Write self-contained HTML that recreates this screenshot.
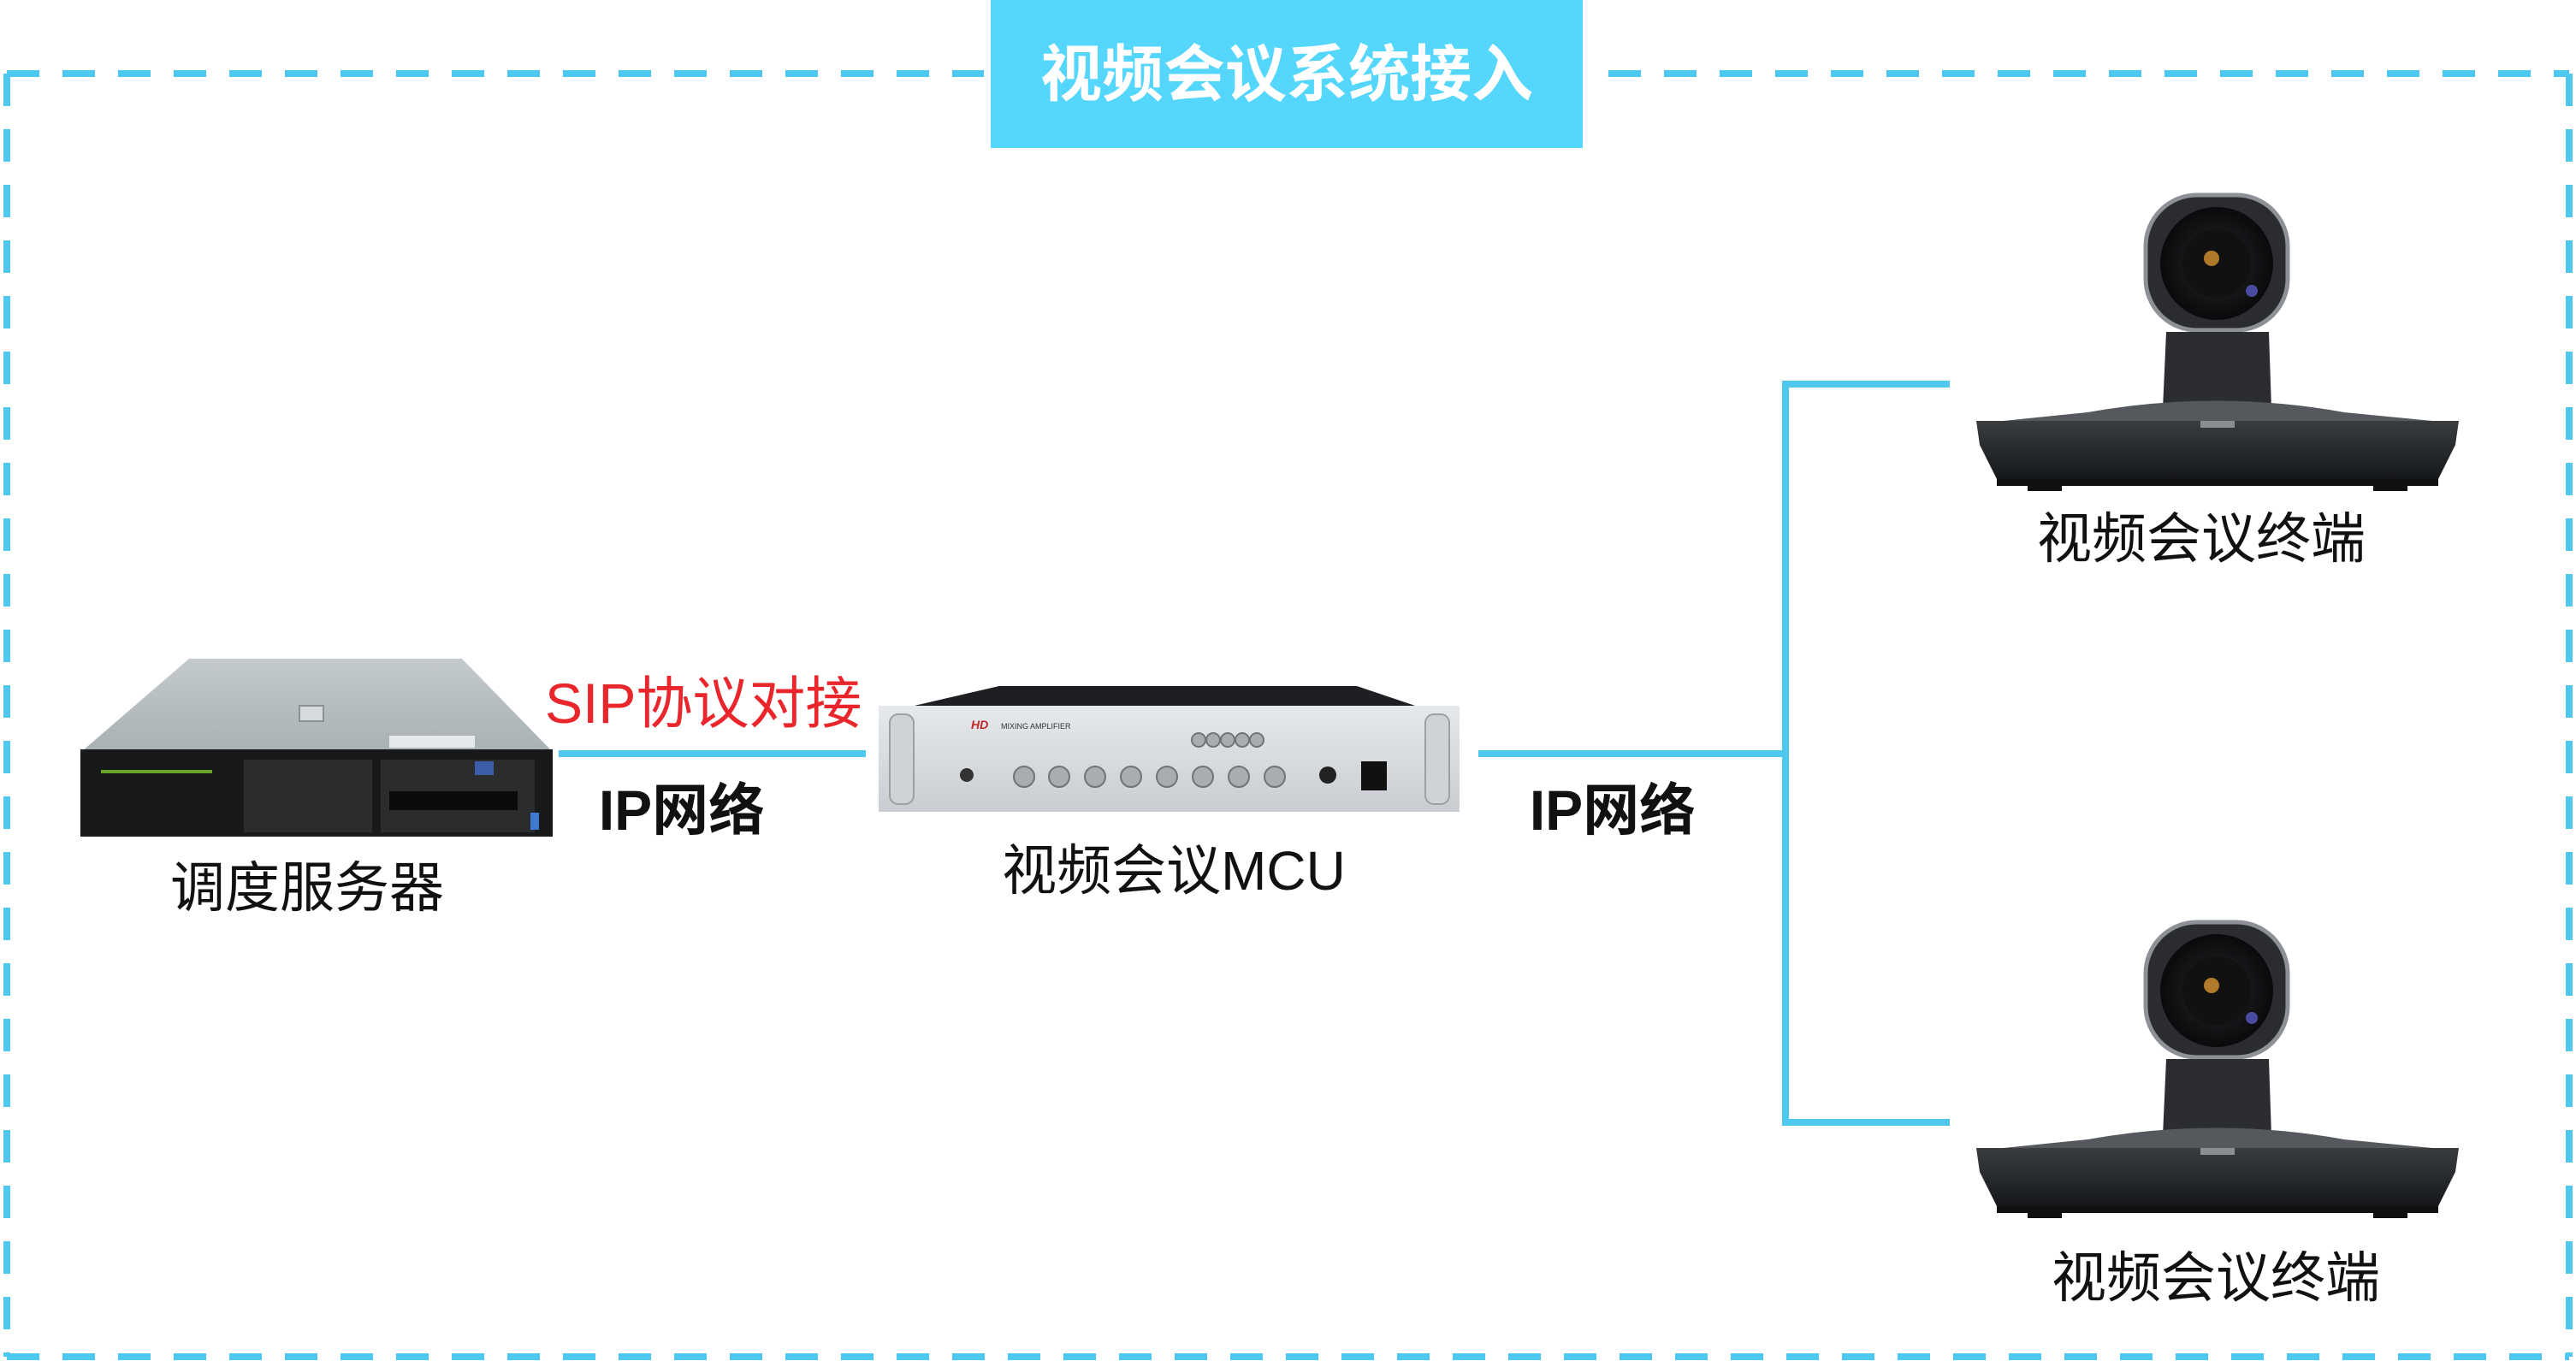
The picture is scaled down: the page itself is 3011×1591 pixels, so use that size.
<!DOCTYPE html>
<html><head><meta charset="utf-8"><style>
html,body{margin:0;padding:0;background:#fff;}
svg{display:block;}
text{font-family:"Liberation Sans","Noto Sans CJK SC",sans-serif;}
</style></head><body>
<svg width="3011" height="1591" viewBox="0 0 3011 1591" xmlns="http://www.w3.org/2000/svg">
<defs>
<linearGradient id="silver" x1="0" y1="0" x2="0" y2="1"><stop offset="0" stop-color="#e6e9ec"/><stop offset="1" stop-color="#c9cdd1"/></linearGradient>
<linearGradient id="top" x1="0" y1="0" x2="0" y2="1"><stop offset="0" stop-color="#c4cacd"/><stop offset="1" stop-color="#a9b1b5"/></linearGradient>
<linearGradient id="base" x1="0" y1="0" x2="0" y2="1"><stop offset="0" stop-color="#3a3d40"/><stop offset="1" stop-color="#15171a"/></linearGradient>
<radialGradient id="lens"><stop offset="0" stop-color="#6b4a1a"/><stop offset="0.35" stop-color="#1e1e22"/><stop offset="1" stop-color="#0a0a0c"/></radialGradient>
<g id="cam">
  <rect x="2508" y="228" width="166" height="158" rx="60" fill="#2a2c30" stroke="#8d9096" stroke-width="5"/>
  <circle cx="2591" cy="308" r="66" fill="url(#lens)"/>
  <circle cx="2591" cy="308" r="40" fill="#111"/>
  <circle cx="2585" cy="302" r="9" fill="#b07a2a"/>
  <circle cx="2632" cy="340" r="7" fill="#4a4aa0"/>
  <path d="M2532 388 L2652 388 L2655 478 L2528 478 Z" fill="#2b2d31"/>
  <path d="M2440 482 Q2590 455 2740 482 L2874 495 L2312 495 Z" fill="#55585d"/>
  <path d="M2310 492 L2874 492 L2870 520 L2850 560 L2334 560 L2314 520 Z" fill="url(#base)"/>
  <rect x="2334" y="560" width="516" height="8" fill="#111"/>
  <rect x="2370" y="566" width="40" height="8" fill="#111"/>
  <rect x="2774" y="566" width="40" height="8" fill="#111"/>
  <rect x="2572" y="492" width="40" height="8" fill="#8a8d92"/>
</g>
</defs>
<!-- dashed frame -->
<g stroke="#4fc8ef" stroke-width="8" fill="none" stroke-dasharray="38 27">
  <line x1="8" y1="86" x2="1150" y2="86"/>
  <line x1="1880" y1="86" x2="3003" y2="86"/>
  <line x1="8" y1="86" x2="8" y2="1586"/>
  <line x1="3003" y1="86" x2="3003" y2="1586"/>
  <line x1="8" y1="1586" x2="3003" y2="1586"/>
</g>
<rect x="1158" y="0" width="692" height="173" fill="#55d6fc"/>
<text x="1504" y="112" font-size="72" font-weight="bold" fill="#fff" text-anchor="middle">视频会议系统接入</text>
<!-- connectors -->
<g stroke="#4fc8ef" stroke-width="8" fill="none">
  <line x1="653" y1="881" x2="1012" y2="881"/>
  <line x1="1728" y1="881" x2="2087" y2="881"/>
  <polyline points="2279,449 2087,449 2087,1312 2279,1312"/>
</g>
<!-- server -->
<polygon points="221,770 540,770 645,878 96,878" fill="url(#top)"/>
<rect x="350" y="825" width="28" height="18" fill="#d6dadc" stroke="#8a9094" stroke-width="2"/>
<rect x="455" y="860" width="100" height="14" fill="#e6e9eb"/>
<rect x="94" y="876" width="552" height="102" fill="#17191b"/>
<g fill="#2a2c2e"><rect x="285" y="888" width="150" height="85"/><rect x="445" y="888" width="180" height="85"/></g>
<g fill="#6aa52a"><rect x="118" y="900" width="130" height="4"/></g>
<rect x="555" y="890" width="22" height="16" fill="#3d5ea8"/>
<rect x="455" y="925" width="150" height="22" fill="#0a0a0a"/>
<rect x="620" y="950" width="10" height="20" fill="#3f7ad0"/>
<!-- MCU -->
<polygon points="1168,802 1586,802 1660,827 1060,827" fill="#1d1f22"/>
<rect x="1027" y="825" width="679" height="124" fill="url(#silver)"/>
<rect x="1040" y="835" width="28" height="105" rx="10" fill="#cfd3d6" stroke="#9aa0a4" stroke-width="2"/>
<rect x="1666" y="835" width="28" height="105" rx="10" fill="#cfd3d6" stroke="#9aa0a4" stroke-width="2"/>
<text x="1135" y="852" font-size="14" font-style="italic" font-weight="bold" fill="#c0262a">HD</text>
<text x="1170" y="852" font-size="9" fill="#333">MIXING AMPLIFIER</text>
<g fill="#a8adb1" stroke="#6e7478" stroke-width="2">
  <circle cx="1401" cy="865" r="8"/><circle cx="1418" cy="865" r="8"/><circle cx="1435" cy="865" r="8"/><circle cx="1452" cy="865" r="8"/><circle cx="1469" cy="865" r="8"/>
  <circle cx="1197" cy="908" r="12"/><circle cx="1238" cy="908" r="12"/><circle cx="1280" cy="908" r="12"/><circle cx="1322" cy="908" r="12"/><circle cx="1364" cy="908" r="12"/><circle cx="1406" cy="908" r="12"/><circle cx="1448" cy="908" r="12"/><circle cx="1490" cy="908" r="12"/>
</g>
<circle cx="1130" cy="906" r="8" fill="#333"/>
<circle cx="1552" cy="906" r="10" fill="#222"/>
<rect x="1591" y="890" width="30" height="34" fill="#111"/>
<!-- cameras -->
<use href="#cam"/>
<use href="#cam" transform="translate(0,850)"/>
<!-- labels -->
<text x="637" y="845" font-size="66" fill="#e8262c">SIP协议对接</text>
<text x="797" y="970" font-size="66" font-weight="bold" fill="#111" text-anchor="middle">IP网络</text>
<text x="1885" y="970" font-size="66" font-weight="bold" fill="#111" text-anchor="middle">IP网络</text>
<text x="359" y="1060" font-size="64" fill="#111" text-anchor="middle">调度服务器</text>
<text x="1372" y="1040" font-size="64" fill="#111" text-anchor="middle">视频会议MCU</text>
<text x="2573" y="652" font-size="64" fill="#111" text-anchor="middle">视频会议终端</text>
<text x="2590" y="1516" font-size="64" fill="#111" text-anchor="middle">视频会议终端</text>
</svg>
</body></html>
